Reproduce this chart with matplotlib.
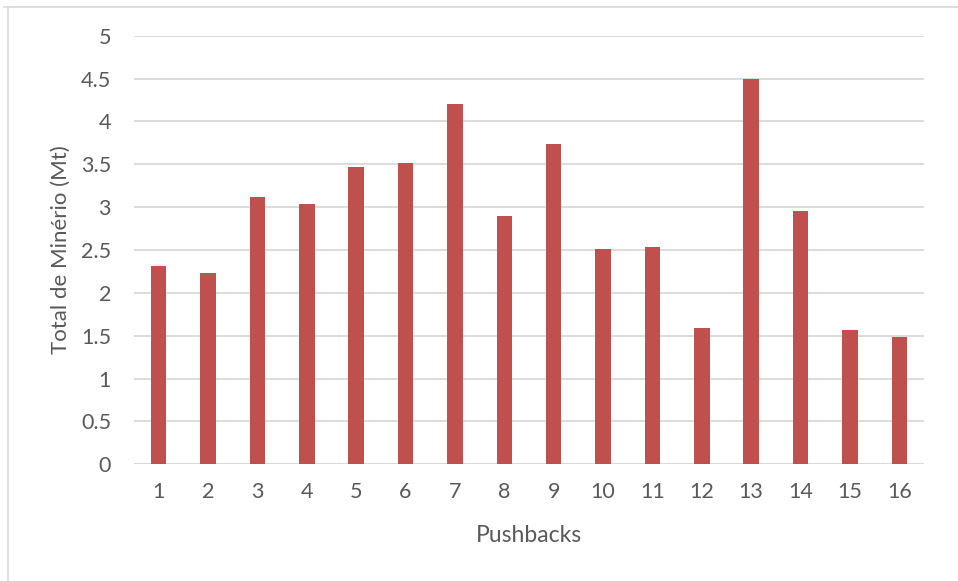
import matplotlib
matplotlib.use("Agg")
import matplotlib.pyplot as plt
from matplotlib.lines import Line2D
import numpy as np

pushbacks = list(range(1, 17))
minerio = [2.31, 2.23, 3.12, 3.04, 3.47, 3.51, 4.20, 2.90,
           3.74, 2.51, 2.53, 1.59, 4.49, 2.95, 1.57, 1.48]
yticks = [0, 0.5, 1, 1.5, 2, 2.5, 3, 3.5, 4, 4.5, 5]
ytick_labels = ["0", "0.5", "1", "1.5", "2", "2.5", "3", "3.5", "4", "4.5", "5"]

txt = "#595959"
plt.rcParams['font.family'] = ['Lato', 'DejaVu Sans']

fig = plt.figure(figsize=(9.58, 5.81), dpi=100)
ax = fig.add_axes([134/958, 1 - 464.3/581, 790/958, (464.3 - 35.7)/581])

ax.bar(pushbacks, minerio, width=0.315, color="#C0504D", zorder=3)

ax.set_xlim(0.5, 16.5)
ax.set_ylim(0, 5)
ax.set_yticks(yticks)
ax.set_yticklabels(ytick_labels)
ax.set_xticks(pushbacks)
ax.grid(axis='y', color="#D9D9D9", linewidth=1.3, zorder=0)
for s in ax.spines.values():
    s.set_visible(False)
ax.axhline(0, color="#D9D9D9", linewidth=1.3, zorder=2)
ax.tick_params(length=0, labelsize=15.5, colors=txt)
ax.tick_params(axis='y', pad=16.5)
ax.tick_params(axis='x', pad=13)

ax.set_xlabel("Pushbacks", fontsize=16.5, color=txt, labelpad=16)
ax.set_ylabel("Total de Minério (Mt)", fontsize=16, color=txt, labelpad=7)

# chart frame (only top and left edges are visible in the crop)
fig.add_artist(Line2D([8/958, 8/958], [0, 1 - 7/581], transform=fig.transFigure,
                      color="#D9D9D9", linewidth=1.2))
fig.add_artist(Line2D([4/958, 1], [1 - 7/581, 1 - 7/581], transform=fig.transFigure,
                      color="#D9D9D9", linewidth=1.2))

plt.savefig("out.png", dpi=100)
